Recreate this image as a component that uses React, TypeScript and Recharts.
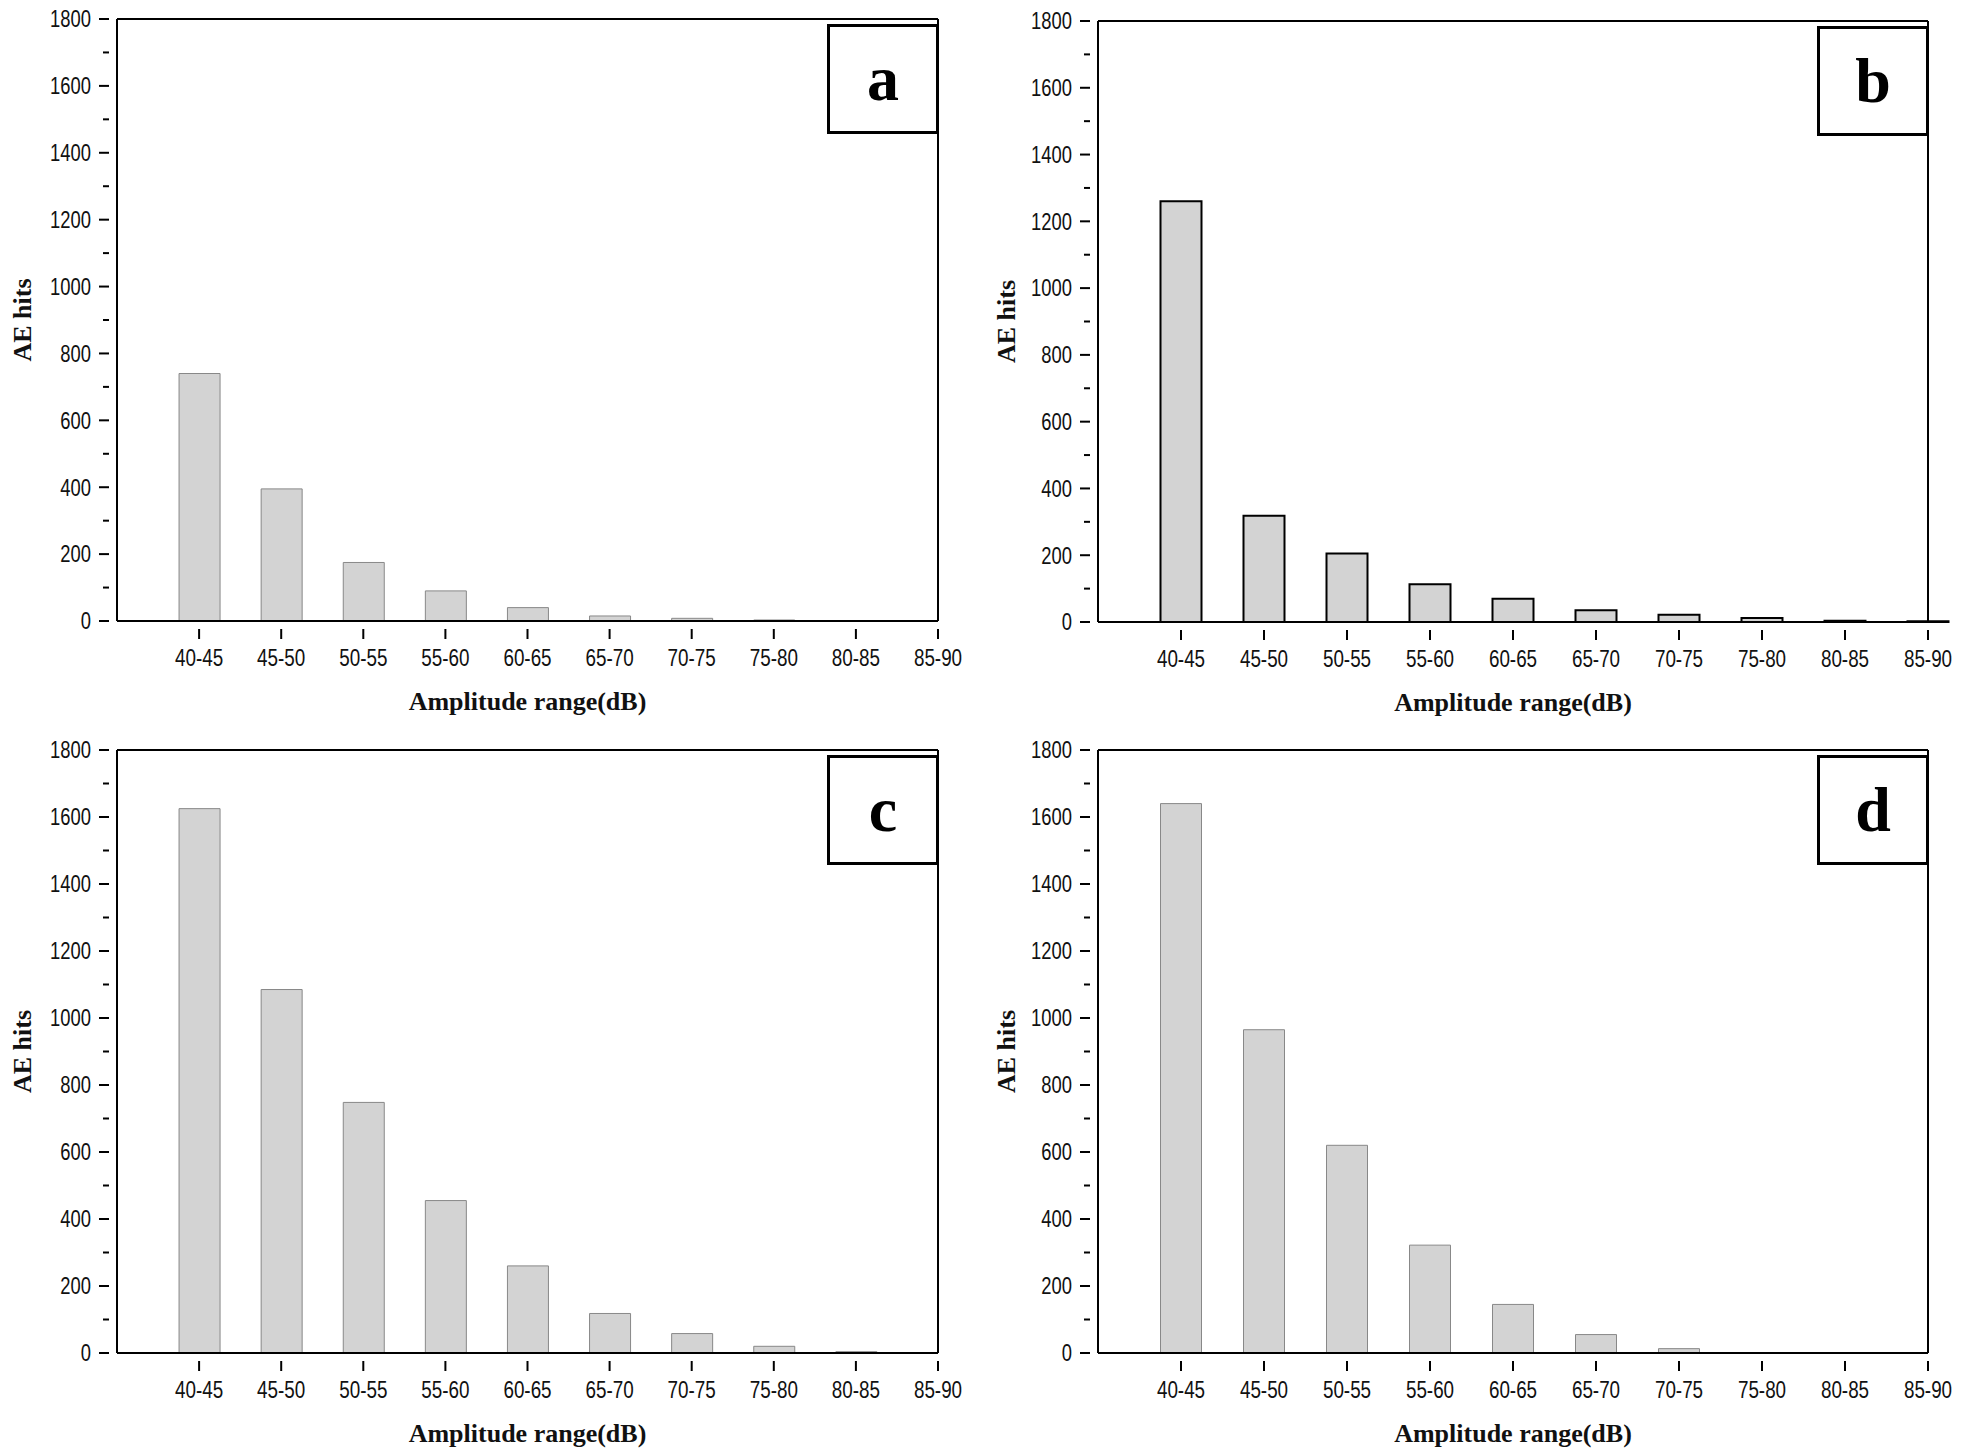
import React from "react"
import { BarChart, Bar, XAxis, YAxis, Label } from "recharts"

const categories = ["40-45", "45-50", "50-55", "55-60", "60-65", "65-70", "70-75", "75-80", "80-85", "85-90"]
const hitsA = [740, 395, 175, 90, 40, 15, 8, 3, 0, 0]
const hitsB = [1260, 318, 205, 113, 70, 35, 22, 12, 4, 2]
const hitsC = [1625, 1085, 748, 455, 260, 118, 58, 20, 4, 0]
const hitsD = [1640, 965, 620, 322, 145, 55, 13, 0, 0, 0]
const yTicks = [0, 100, 200, 300, 400, 500, 600, 700, 800, 900, 1000, 1100, 1200, 1300, 1400, 1500, 1600, 1700, 1800]
const xTicks = [1, 2, 3, 4, 5, 6, 7, 8, 9, 10]

const W = 984
const H = 727
const tickFont = "Liberation Sans, Arial"

const YTick = (props: any) => {
    const { x, y, payload } = props
    const major = payload.value % 200 === 0
    return (
        <g>
            <line x1={x} x2={x - (major ? 10 : 6)} y1={y} y2={y} stroke="#000" strokeWidth={2} />
            {major && (
                <g transform={`translate(${x - 18},${y}) scale(0.8,1)`}>
                    <text x={0} y={0} textAnchor="end" dominantBaseline="central" fontFamily={tickFont} fontSize={23} fill="#111">
                        {payload.value}
                    </text>
                </g>
            )}
        </g>
    )
}

const XTick = (props: any) => {
    const { x, y, payload } = props
    return (
        <g>
            <line x1={x} x2={x} y1={y} y2={y + 10} stroke="#000" strokeWidth={2} />
            <g transform={`translate(${x},${y + 29}) scale(0.82,1)`}>
                <text x={0} y={0} textAnchor="middle" dominantBaseline="central" fontFamily={tickFont} fontSize={23} fill="#111">
                    {categories[payload.value - 1]}
                </text>
            </g>
        </g>
    )
}

function Panel({ values, letter, left, top, plot, stroke, strokeWidth }: any) {
    const data = values.map((v: number, i: number) => ({ x: i + 1, hits: v }))
    const margin = { left: 0, right: W - plot.right, top: plot.top - 1, bottom: H - plot.bottom - 1 }
    return (
        <div style={{ position: "absolute", left, top, width: W, height: H }}>
            <BarChart width={W} height={H} data={data} margin={margin}>
                <XAxis dataKey="x" type="number" domain={[0, 10]} ticks={xTicks} tick={<XTick />} tickLine={false} height={1} axisLine={{ stroke: "#000", strokeWidth: 2 }} interval={0}>
                    <Label value="Amplitude range(dB)" position="bottom" offset={70} style={{ fontFamily: "Liberation Serif, Times New Roman", fontWeight: "bold", fontSize: 26, fill: "#111" }} />
                </XAxis>
                <XAxis xAxisId="top" orientation="top" dataKey="x" type="number" domain={[0, 10]} tick={false} tickLine={false} height={1} axisLine={{ stroke: "#000", strokeWidth: 2 }} />
                <YAxis domain={[0, 1800]} ticks={yTicks} tick={<YTick />} tickLine={false} interval={0} axisLine={{ stroke: "#000", strokeWidth: 2 }} width={plot.left}>
                    <Label value="AE hits" angle={-90} position="insideLeft" offset={22} style={{ fontFamily: "Liberation Serif, Times New Roman", fontWeight: "bold", fontSize: 26, fill: "#111", textAnchor: "middle" }} />
                </YAxis>
                <YAxis yAxisId="right" orientation="right" domain={[0, 1800]} tick={false} tickLine={false} axisLine={{ stroke: "#000", strokeWidth: 2 }} width={1} />
                <Bar dataKey="hits" fill="#d3d3d3" stroke={stroke} strokeWidth={strokeWidth} barSize={41} isAnimationActive={false} />
            </BarChart>
            <div style={{ position: "absolute", left: plot.right - 112, top: plot.top + 5, width: 106, height: 104, border: "3.5px solid #000", background: "#fff", display: "flex", alignItems: "center", justifyContent: "center", fontFamily: "Liberation Serif, Times New Roman", fontWeight: "bold", fontSize: 64, lineHeight: 1 }}>
                {letter}
            </div>
        </div>
    )
}

export default function App() {
    return (
        <div style={{ position: "absolute", left: 0, top: 0, width: 1968, height: 1455, background: "#fff" }}>
            <Panel values={hitsA} letter="a" left={0} top={0} plot={{ left: 117, right: 939, top: 19, bottom: 621 }} stroke="#888" strokeWidth={1} />
            <Panel values={hitsB} letter="b" left={984} top={0} plot={{ left: 114, right: 945, top: 21, bottom: 622 }} stroke="#000" strokeWidth={2} />
            <Panel values={hitsC} letter="c" left={0} top={727} plot={{ left: 117, right: 939, top: 23, bottom: 626 }} stroke="#888" strokeWidth={1} />
            <Panel values={hitsD} letter="d" left={984} top={727} plot={{ left: 114, right: 945, top: 23, bottom: 626 }} stroke="#888" strokeWidth={1} />
        </div>
    )
}
